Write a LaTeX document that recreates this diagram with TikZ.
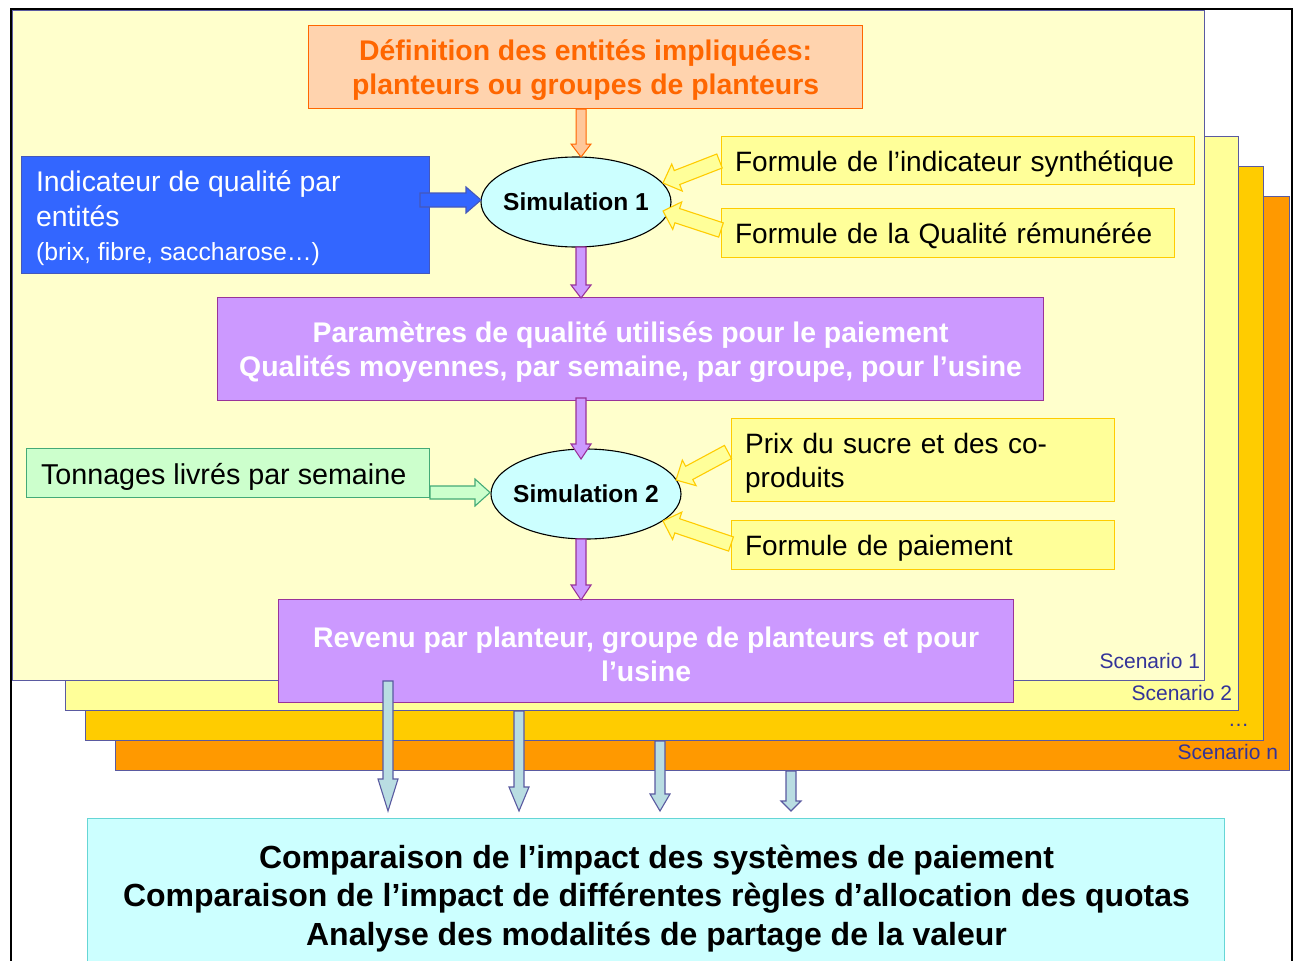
\documentclass[tikz,border=0pt]{standalone}
\usepackage{fontspec}
\setmainfont{Liberation Sans}
\usetikzlibrary{calc,shapes.geometric}
\definecolor{scline}{HTML}{5A5AA0}
\definecolor{ink}{HTML}{333399}
\definecolor{orangeT}{HTML}{FF6600}
\definecolor{lilac}{HTML}{CC99FF}
\definecolor{lilacD}{HTML}{993399}
\definecolor{paleteal}{HTML}{B9DDE2}
\definecolor{defc}{HTML}{FFD3AE}
\definecolor{defA}{HTML}{FFC79A}
\definecolor{yellowD}{HTML}{FFCC00}
\definecolor{yellowF}{HTML}{FFFF99}
\definecolor{cyanF}{HTML}{CCFFFF}
\definecolor{blueF}{HTML}{3366FF}
\definecolor{blueD}{HTML}{4458BB}
\definecolor{greenF}{HTML}{CCFFCC}
\definecolor{greenD}{HTML}{44AA77}
\definecolor{cmpD}{HTML}{66D6D6}
\definecolor{sheetA}{HTML}{FF9900}
\definecolor{sheetB}{HTML}{FFCC00}
\definecolor{sheetD}{HTML}{FFFFCC}
\tikzset{
  x=1pt,y=-1pt,
  every node/.style={inner sep=0pt,outer sep=0pt},
  rbox/.style={draw,line width=1.3pt,rectangle},
  scen/.style={rbox,draw=scline,line width=1.3pt},
  defbox/.style={rbox,draw=orangeT,fill=defc,text=orangeT,font=\fontsize{28.4}{34}\selectfont\bfseries,align=center},
  purple/.style={rbox,draw=lilacD,fill=lilac,text=white,font=\fontsize{28.4}{34}\selectfont\bfseries,align=center},
  yel/.style={rbox,draw=yellowD,fill=yellowF,text=black,font=\fontsize{28}{34}\selectfont,align=left},
  sim/.style={ellipse,draw=black,line width=1.1pt,fill=cyanF,minimum width=190pt,minimum height=90pt,inner xsep=-6pt,font=\fontsize{24.5}{28}\selectfont\bfseries},
  lab/.style={text=ink,font=\fontsize{21}{24}\selectfont,anchor=east},
  bluetxt/.style={anchor=base west,text=white,font=\fontsize{28.4}{34}\selectfont},
  aorange/.style={draw=orangeT,fill=defA,line width=1pt},
  ablue/.style={draw=blueD,fill=blueF,line width=1.1pt},
  ayel/.style={draw=yellowD,fill=yellowF,line width=1.1pt},
  apur/.style={draw=lilacD,fill=lilac,line width=1.1pt},
  agreen/.style={draw=greenD,fill=greenF,line width=1.1pt},
  acyan/.style={draw=scline,fill=paleteal,line width=1.1pt,line join=miter},
}
% \fatarrow{style}{from}{to}{shaft width}{head width}{head length}
\newcommand{\fatarrow}[6]{%
  \coordinate (hb) at ($(#3)!#6pt!(#2)$);
  \draw[#1] ($(#2)!#4pt/2!90:(#3)$) -- ($(hb)!#4pt/2!-90:(#2)$) -- ($(hb)!#5pt/2!-90:(#2)$) -- (#3)
    -- ($(hb)!#5pt/2!90:(#2)$) -- ($(hb)!#4pt/2!90:(#2)$) -- ($(#2)!#4pt/2!-90:(#3)$) -- cycle;}
% \pxbox{style}{name}{x1}{y1}{x2}{y2}{text}
\newcommand{\pxbox}[7]{%
  \pgfmathsetmacro{\bw}{#5-#3}\pgfmathsetmacro{\bh}{#6-#4}%
  \node[#1,minimum width=\bw pt,minimum height=\bh pt] (#2) at ({(#3+#5)/2-0.4},{(#4+#6)/2-0.4}) {};
  \node[#1,draw=none,fill=none,yshift=-3pt] (#2t) at (#2) {#7};}
\begin{document}
\begin{tikzpicture}
\useasboundingbox (0,0) rectangle (1296,961);
\clip (0,0) rectangle (1296,961);
% scenario sheets
\pxbox{scen,fill=sheetA}{s4}{116}{197}{1290}{771}{}
\pxbox{scen,fill=sheetB}{s3}{86}{167}{1264}{741}{}
\pxbox{scen,fill=yellowF}{s2}{66}{137}{1239}{711}{}
\pxbox{scen,fill=sheetD}{s1}{12.5}{10.5}{1205}{681}{}
% page frame
\coordinate (fa) at (11,975); \coordinate (fb) at (11,9);
\coordinate (fc) at (1292,9); \coordinate (fd) at (1292,975);
\draw[line width=2.4pt,black] (fa) -- (fb) -- (fc) -- (fd);
\node[lab] (l1) at (1200,660.5) {Scenario 1};
\node[lab] (l2) at (1232,692.5) {Scenario 2};
\node[lab] (l3) at (1249,725) {…};
\node[lab] (l4) at (1278,752) {Scenario n};
% boxes
\pxbox{defbox}{def}{309}{26}{863}{109}{Définition des entités impliquées:\\planteurs ou groupes de planteurs}
\pxbox{rbox,draw=blueD,fill=blueF}{blue}{22}{157}{430}{274}{}
\node[bluetxt] (bt1) at (36,191.5) {Indicateur de qualité par};
\node[bluetxt] (bt2) at (36,226) {entités};
\node[bluetxt,font=\fontsize{24.8}{28}\selectfont] (bt3) at (36,260) {(brix, fibre, saccharose…)};
\pxbox{yel,text width=446pt}{f1}{722}{137}{1195}{185}{Formule de l’indicateur synthétique}
\pxbox{yel,text width=426pt}{f2}{722}{209}{1175}{258}{Formule de la Qualité rémunérée}
\pxbox{purple}{p1}{218}{298}{1044}{401}{Paramètres de qualité utilisés pour le paiement\\Qualités moyennes, par semaine, par groupe, pour l’usine}
\pxbox{rbox,draw=greenD,fill=greenF}{green}{27}{449}{430}{498}{}
\node[anchor=base west,text=black,font=\fontsize{28.7}{34}\selectfont] (greent) at (41,484) {Tonnages livrés par semaine};
\pxbox{yel,text width=356pt}{f3}{732}{419}{1115}{502}{Prix du sucre et des co-\\produits}
\pxbox{yel,text width=356pt}{f4}{732}{521}{1115}{570}{Formule de paiement}
\node[sim] (e1) at (576,202) {Simulation 1};
\node[sim] (e2) at (586,494) {Simulation 2};
\pxbox{purple}{p2}{279}{600}{1014}{703}{Revenu par planteur, groupe de planteurs et pour\\l’usine}
\pxbox{rbox,draw=cmpD,fill=cyanF}{cmp}{88}{819}{1225}{975}{}
\node[font=\fontsize{32}{38.5}\selectfont\bfseries,align=center,anchor=north] (cmpt) at (656.5,845) {Comparaison de l’impact des systèmes de paiement\\Comparaison de l’impact de différentes règles d’allocation des quotas\\Analyse des modalités de partage de la valeur};
% arrows
\coordinate (a1s) at (581,109); \coordinate (a1e) at (581,157);
\fatarrow{aorange}{a1s}{a1e}{10}{20}{13}
\coordinate (a2s) at (420,200); \coordinate (a2e) at (481,200);
\fatarrow{ablue}{a2s}{a2e}{14}{26}{15}
\coordinate (a3s) at (719.5,161); \coordinate (a3e) at (663,183);
\fatarrow{ayel}{a3s}{a3e}{15}{29}{15}
\coordinate (a4s) at (721,230); \coordinate (a4e) at (663,211);
\fatarrow{ayel}{a4s}{a4e}{15}{29}{15}
\coordinate (a5s) at (581,247); \coordinate (a5e) at (581,298);
\fatarrow{apur}{a5s}{a5e}{10}{20}{13}
\coordinate (a6s) at (581,398); \coordinate (a6e) at (581,459);
\fatarrow{apur}{a6s}{a6e}{10}{20}{15}
\coordinate (a7s) at (430,492.5); \coordinate (a7e) at (490,492.5);
\fatarrow{agreen}{a7s}{a7e}{13}{27}{15}
\coordinate (a8s) at (728,452); \coordinate (a8e) at (676,480);
\fatarrow{ayel}{a8s}{a8e}{15}{29}{15}
\coordinate (a9s) at (731,544); \coordinate (a9e) at (663,521);
\fatarrow{ayel}{a9s}{a9e}{15}{29}{15}
\coordinate (a10s) at (581,539); \coordinate (a10e) at (581,600);
\fatarrow{apur}{a10s}{a10e}{10}{20}{15}
\coordinate (c1s) at (388,681); \coordinate (c1e) at (388,811);
\fatarrow{acyan}{c1s}{c1e}{10}{20}{32}
\coordinate (c2s) at (519,711); \coordinate (c2e) at (519,811);
\fatarrow{acyan}{c2s}{c2e}{10}{20}{24}
\coordinate (c3s) at (660,741); \coordinate (c3e) at (660,811);
\fatarrow{acyan}{c3s}{c3e}{10}{20}{17}
\coordinate (c4s) at (791,771); \coordinate (c4e) at (791,811);
\fatarrow{acyan}{c4s}{c4e}{10}{20}{10}
\end{tikzpicture}
\end{document}
